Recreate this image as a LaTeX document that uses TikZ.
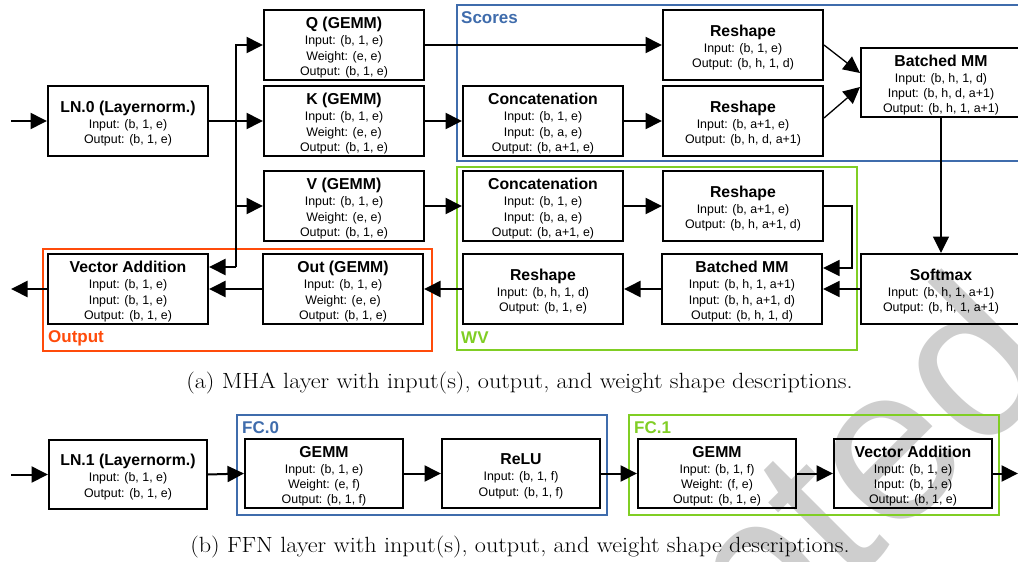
\documentclass[tikz,border=0pt]{standalone}
\usepackage{fontspec}
\newfontfamily\boxfont{Liberation Sans}
\newfontfamily\capfont[FakeStretch=1.1]{Latin Modern Roman}
\usetikzlibrary{arrows.meta}
\definecolor{grpblue}{RGB}{63,108,172}
\definecolor{grpgreen}{RGB}{128,206,36}
\definecolor{grporange}{RGB}{255,75,10}
\definecolor{wmgray}{RGB}{206,206,206}
% bold title line of an operator box
\newcommand{\ttl}[1]{{\fontsize{15.8}{17}\selectfont\bfseries\rule{0pt}{16.5pt}#1}\\[1pt]}

\begin{document}
\begin{tikzpicture}[x=1pt,y=-1pt,
  blk/.style={draw, line width=2pt, minimum width=160pt, minimum height=70pt,
    inner sep=0pt, align=center, font=\boxfont\fontsize{12.4}{15.3}\selectfont},
  sblk/.style={blk, minimum width=158pt, minimum height=69pt},
  grp/.style={line width=2.5pt},
  glabel/.style={anchor=west, inner sep=0pt,
    font=\boxfont\fontsize{17}{18}\selectfont\bfseries},
  conn/.style={line width=2pt, -{Triangle[length=16.5pt,width=16pt]}},
  thinconn/.style={line width=1.3pt, -{Triangle[length=16.5pt,width=16pt]}},
  captxt/.style={inner sep=0pt, anchor=base, font=\capfont\fontsize{22}{26}\selectfont},
  wm/.style={inner sep=0pt, text=wmgray, rotate=45, anchor=base east,
    font=\boxfont\fontsize{220}{220}\selectfont}
]
\useasboundingbox (0,0) rectangle (1018,562);
\clip (0,0) rectangle (1018,562);
\fill[white] (0,0) rectangle (1018,562);

% watermark
\node[wm] (wmark) at (1065,371) {Accepted};

% ---------------- (a) MHA layer ----------------
% group frames
\draw[grp, grpblue]   (457,5)   rectangle (1030,161);
\draw[grp, grpgreen]  (457,167) rectangle (857,350);
\draw[grp, grporange] (43,249)  rectangle (432,351);
\node[glabel, text=grpblue]   (lscores) at (461,18)  {Scores};
\node[glabel, text=grpgreen]  (lwv)     at (461,338) {WV};
\node[glabel, text=grporange] (lout)    at (48,338)  {Output};

% operators
\node[blk] (ln0) at (128,121) {\ttl{LN.0 (Layernorm.)}Input: (b, 1, e)\\Output: (b, 1, e)};
\node[blk] (q) at (344,45)  {\ttl{Q (GEMM)}Input: (b, 1, e)\\Weight: (e, e)\\Output: (b, 1, e)};
\node[blk] (k) at (344,121) {\ttl{K (GEMM)}Input: (b, 1, e)\\Weight: (e, e)\\Output: (b, 1, e)};
\node[blk] (v) at (344,206) {\ttl{V (GEMM)}Input: (b, 1, e)\\Weight: (e, e)\\Output: (b, 1, e)};
\node[blk] (cs) at (543,121) {\ttl{Concatenation}Input: (b, 1, e)\\Input: (b, a, e)\\Output: (b, a+1, e)};
\node[blk] (r1) at (743,45)  {\ttl{Reshape}Input: (b, 1, e)\\Output: (b, h, 1, d)};
\node[blk] (r2) at (743,121) {\ttl{Reshape}Input: (b, a+1, e)\\Output: (b, h, d, a+1)};
\node[blk, minimum height=69pt] (bmm1) at (941,82.5) {\ttl{Batched MM}Input: (b, h, 1, d)\\Input: (b, h, d, a+1)\\Output: (b, h, 1, a+1)};
\node[blk] (cv) at (543,206) {\ttl{Concatenation}Input: (b, 1, e)\\Input: (b, a, e)\\Output: (b, a+1, e)};
\node[blk] (rv) at (743,206) {\ttl{Reshape}Input: (b, a+1, e)\\Output: (b, h, a+1, d)};
\node[blk] (bmm2) at (742,289) {\ttl{Batched MM}Input: (b, h, 1, a+1)\\Input: (b, h, a+1, d)\\Output: (b, h, 1, d)};
\node[blk] (sm) at (941,289) {\ttl{Softmax}Input: (b, h, 1, a+1)\\Output: (b, h, 1, a+1)};
\node[blk] (rb) at (543,289) {\ttl{Reshape}Input: (b, h, 1, d)\\Output: (b, 1, e)};
\node[blk] (out) at (343,289) {\ttl{Out (GEMM)}Input: (b, 1, e)\\Weight: (e, e)\\Output: (b, 1, e)};
\node[blk] (va) at (128,289) {\ttl{Vector Addition}Input: (b, 1, e)\\Input: (b, 1, e)\\Output: (b, 1, e)};

% free ends and routing points
\coordinate (in0) at (11,121);
\coordinate (res0) at (11,289);
\coordinate (split) at (236,121);
\coordinate (vaIn) at ([yshift=22pt]va.east);
\coordinate (bmmIn) at ([yshift=21pt]bmm2.east);
\coordinate (bmmQ) at ([yshift=9.5pt]bmm1.west);
\coordinate (bmmK) at ([yshift=-4.5pt]bmm1.west);

% connectors
\draw[conn] (in0) -- (ln0.west);
\draw[conn] (ln0.east) -- (k.west);
\draw[conn] (split |- vaIn) -- (split |- q.west) -- (q.west);
\draw[conn] (split |- v.west) -- (v.west);
\draw[conn] (split |- vaIn) -- (vaIn);
\draw[conn] (q.east) -- (r1.west);
\draw[conn] (k.east) -- (cs.west);
\draw[conn] (cs.east) -- (r2.west);
\draw[thinconn] (r1.east) -- (bmmQ);
\draw[thinconn] ([yshift=3pt]r2.east) -- (bmmK);
\draw[thinconn] (bmm1.south) -- (sm.north);
\draw[conn] (v.east) -- (cv.west);
\draw[conn] (cv.east) -- (rv.west);
\draw[thinconn] (rv.east) -- ++(28,0) |- (bmmIn);
\draw[thinconn] (sm.west) -- (bmm2.east);
\draw[conn] (bmm2.west) -- (rb.east);
\draw[conn] (rb.west) -- (out.east);
\draw[conn] (out.west) -- (va.east);
\draw[conn] (va.west) -- (res0);

\node[captxt] (capa) at (519.5,388) {(a) MHA layer with input(s), output, and weight shape descriptions.};

% ---------------- (b) FFN layer ----------------
\draw[grp, grpblue]  (237,415) rectangle (607,515);
\draw[grp, grpgreen] (629,415) rectangle (999,515);
\node[glabel, text=grpblue]  (lfc0) at (242,428) {FC.0};
\node[glabel, text=grpgreen] (lfc1) at (634,428) {FC.1};

\node[sblk] (ln1)  at (128,474.5) {\ttl{LN.1 (Layernorm.)}Input: (b, 1, e)\\Output: (b, 1, e)};
\node[sblk] (g0)   at (324,473.5) {\ttl{GEMM}Input: (b, 1, e)\\Weight: (e, f)\\Output: (b, 1, f)};
\node[sblk] (relu) at (521,473.5) {\ttl{ReLU}Input: (b, 1, f)\\Output: (b, 1, f)};
\node[sblk] (g1)   at (717,473.5) {\ttl{GEMM}Input: (b, 1, f)\\Weight: (f, e)\\Output: (b, 1, e)};
\node[sblk] (va1)  at (913,473.5) {\ttl{Vector Addition}Input: (b, 1, e)\\Input: (b, 1, e)\\Output: (b, 1, e)};

\coordinate (in1) at (11,474.5);
\coordinate (out1) at (1018,473.5);
\draw[conn] (in1) -- (ln1.west);
\draw[conn] (ln1.east) -- (g0.west);
\draw[conn] (g0.east) -- (relu.west);
\draw[conn] (relu.east) -- (g1.west);
\draw[conn] (g1.east) -- (va1.west);
\draw[conn] (va1.east) -- (out1);

\node[captxt] (capb) at (520,552) {(b) FFN layer with input(s), output, and weight shape descriptions.};
\end{tikzpicture}
\end{document}
